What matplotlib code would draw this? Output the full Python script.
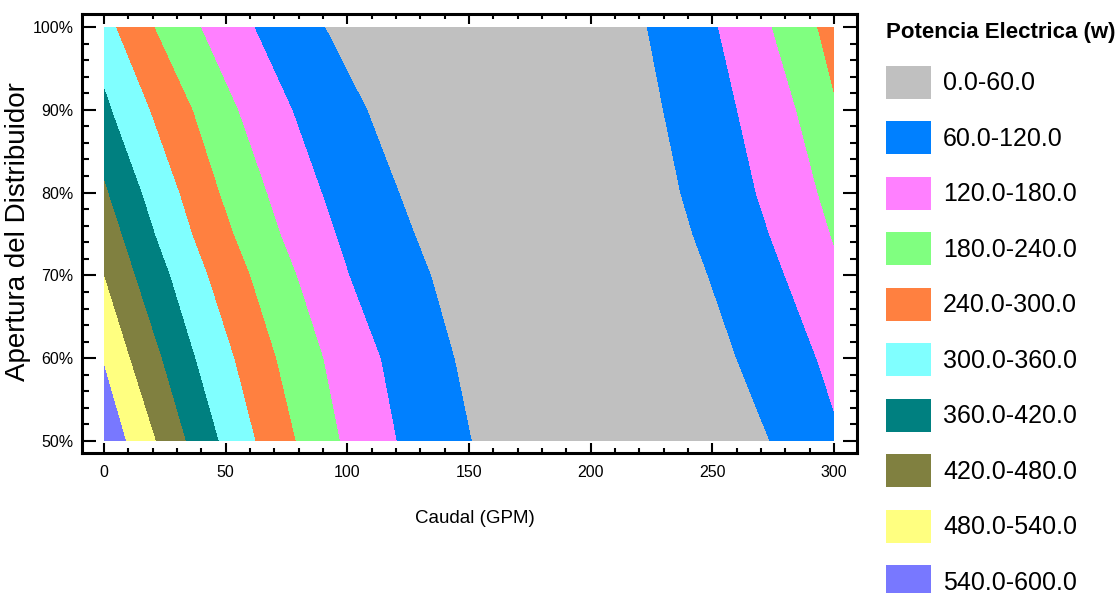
import matplotlib
matplotlib.use('Agg')
import matplotlib.pyplot as plt
from matplotlib.patches import Patch, Rectangle
from matplotlib.ticker import MultipleLocator, PercentFormatter

# apertura del distribuidor (%) at which the contour edges were read
apertura = [50, 60, 70, 75, 80, 90, 100]

# caudal (GPM) of each contour edge, left side (power grows toward Q = 0)
edge_540 = [9.3, -0.5, -10.0, -15.0, -20.0, -30.0, -40.0]
edge_480 = [21.6, 10.9, 0.3, -5.0, -10.0, -20.0, -30.0]
edge_420 = [33.9, 24.0, 13.0, 7.5, 2.0, -9.0, -20.0]
edge_360 = [47.4, 37.8, 27.4, 21.2, 15.8, 3.4, -8.0]
edge_300 = [62.5, 53.8, 42.9, 36.5, 31.2, 19.1, 5.2]
edge_240 = [79.0, 71.0, 60.3, 53.5, 47.7, 36.7, 21.0]
edge_180 = [97.2, 90.4, 79.5, 72.8, 67.2, 55.4, 40.1]
edge_120 = [120.5, 114.0, 101.1, 95.6, 89.8, 77.7, 62.1]
edge_60 = [151.4, 144.3, 134.7, 128.0, 121.6, 108.5, 91.2]

# right side (power grows again toward Q = 300)
edge_60_r = [273.7, 260.0, 248.3, 242.0, 237.0, 229.9, 223.3]
edge_120_r = [304.2, 292.9, 279.9, 273.5, 268.0, 260.3, 252.5]
edge_180_r = [328.0, 316.0, 304.0, 298.6, 293.4, 284.6, 274.6]
edge_240_r = [336.0, 328.0, 319.0, 314.8, 310.5, 301.9, 293.3]

caudal_min, caudal_max = 0, 300
apertura_min, apertura_max = 50, 100

niveles = ['0.0-60.0', '60.0-120.0', '120.0-180.0', '180.0-240.0', '240.0-300.0',
           '300.0-360.0', '360.0-420.0', '420.0-480.0', '480.0-540.0', '540.0-600.0']
colores = ['#C0C0C0', '#0080FF', '#FF80FF', '#80FF80', '#FF8040',
           '#80FFFF', '#008080', '#808040', '#FFFF80', '#7878FF']

# bands from left to right: (left edge, right edge, level index)
bandas = [
    (caudal_min, edge_540, 9),
    (edge_540, edge_480, 8),
    (edge_480, edge_420, 7),
    (edge_420, edge_360, 6),
    (edge_360, edge_300, 5),
    (edge_300, edge_240, 4),
    (edge_240, edge_180, 3),
    (edge_180, edge_120, 2),
    (edge_120, edge_60, 1),
    (edge_60, edge_60_r, 0),
    (edge_60_r, edge_120_r, 1),
    (edge_120_r, edge_180_r, 2),
    (edge_180_r, edge_240_r, 3),
    (edge_240_r, caudal_max, 4),
]

plt.rcParams['font.family'] = ['Liberation Sans', 'DejaVu Sans']

fig = plt.figure(figsize=(11.19, 5.93), dpi=100)
ax = fig.add_axes([0.0733, 0.2361, 0.6926, 0.7403])

clip = Rectangle((caudal_min, apertura_min), caudal_max - caudal_min,
                 apertura_max - apertura_min, transform=ax.transData)
for izq, der, k in bandas:
    poly = ax.fill_betweenx(apertura, izq, der, facecolor=colores[k],
                            linewidth=0, antialiased=False)
    poly.set_clip_path(clip)

ax.set_xlim(-9.04, 309.45)
ax.set_ylim(48.55, 101.57)
ax.xaxis.set_major_locator(MultipleLocator(50))
ax.xaxis.set_minor_locator(MultipleLocator(10))
ax.yaxis.set_major_locator(MultipleLocator(10))
ax.yaxis.set_minor_locator(MultipleLocator(2))
ax.yaxis.set_major_formatter(PercentFormatter(decimals=0))

for s in ax.spines.values():
    s.set_linewidth(2.2)
ax.tick_params(which='both', direction='in', top=True, right=True, width=1.5, color='black')
ax.tick_params(axis='x', which='major', length=7.5, pad=9, labelsize=11.5)
ax.tick_params(axis='x', which='minor', length=3.5)
ax.tick_params(axis='y', which='major', length=10, pad=6, labelsize=11.5)
ax.tick_params(axis='y', which='minor', length=5)

ax.set_xlabel('Caudal (GPM)', fontsize=13.5)
ax.xaxis.set_label_coords(0.507, -0.129)
ax.set_ylabel('Apertura del Distribuidor', fontsize=20)
ax.yaxis.set_label_coords(-0.066, 0.505)

handles = [Patch(facecolor=c, edgecolor='none') for c in colores]
fig.legend(handles, niveles, loc='upper left', bbox_to_anchor=(0.7918, 0.9626),
           frameon=False, title='Potencia Electrica (w)',
           title_fontproperties={'size': 16, 'weight': 'bold'},
           prop={'size': 18}, alignment='left',
           handlelength=1.8, handleheight=1.654, handletextpad=0.48,
           labelspacing=0.90, borderpad=0, borderaxespad=0)

fig.savefig('out.png', dpi=100)
